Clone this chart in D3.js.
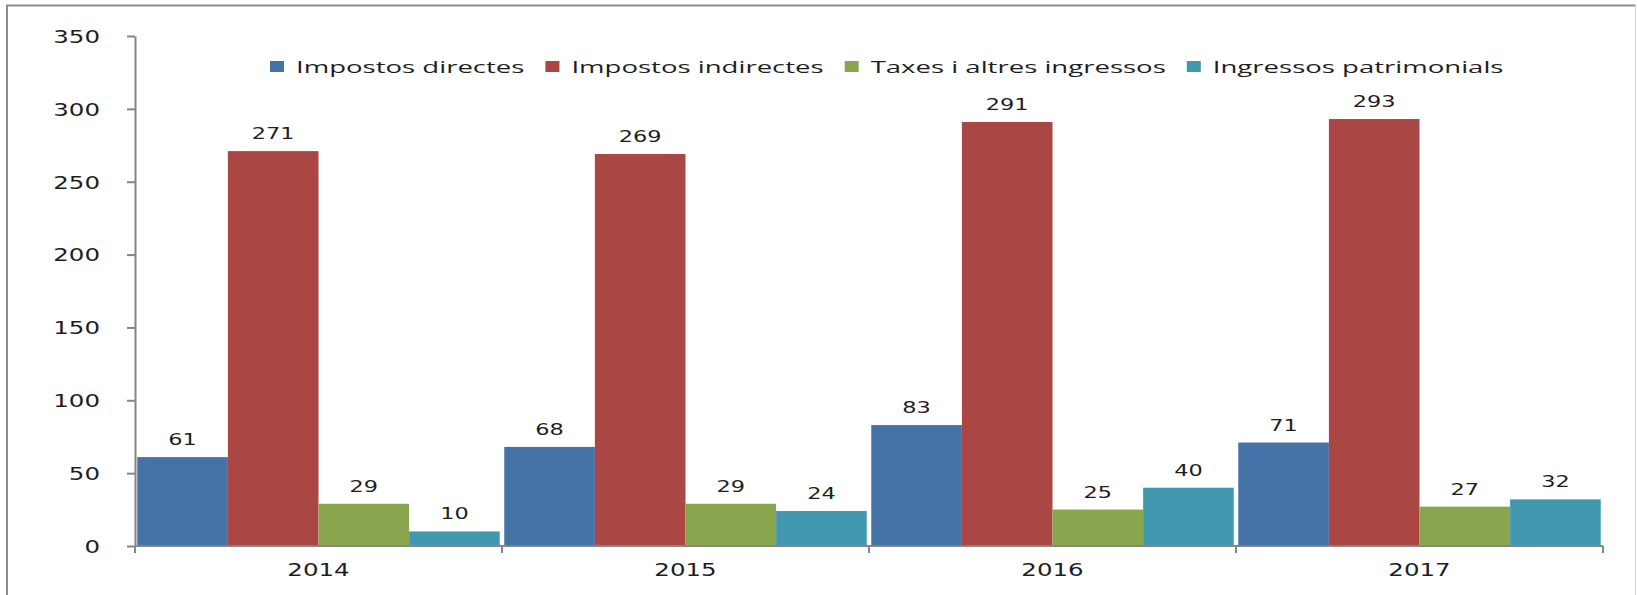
<!DOCTYPE html>
<html>
<head>
<meta charset="utf-8">
<script src="https://cdn.jsdelivr.net/npm/d3@7"></script>
<style>
  body { margin: 0; background: #fff; }
  svg text { font-family: "DejaVu Sans", Verdana, sans-serif; fill: #1e1e1e; }
  .legend text { font-family: "Open Sans", sans-serif; }
</style>
</head>
<body>
<svg id="chart" width="1637" height="595"></svg>
<script>
// chart data
var years = ["2014", "2015", "2016", "2017"];
var seriesNames = ["Impostos directes", "Impostos indirectes", "Taxes i altres ingressos", "Ingressos patrimonials"];
var directes = [61, 68, 83, 71];
var indirectes = [271, 269, 291, 293];
var taxes = [29, 29, 25, 27];
var patrimonials = [10, 24, 40, 32];
var yTicks = [0, 50, 100, 150, 200, 250, 300, 350];
var colors = ["#4572A7", "#AA4643", "#89A54E", "#4198AF"];

var seriesValues = [directes, indirectes, taxes, patrimonials];

var svg = d3.select("#chart");
var stretch = 1.4;      // original text is drawn wide
var legendStretch = 1.62;

// frame round the chart
svg.append("line").attr("x1", 7).attr("y1", 5).attr("x2", 7).attr("y2", 600)
  .attr("stroke", "#8c8c8c").attr("stroke-width", 2);
svg.append("line").attr("x1", 6).attr("y1", 5.5).attr("x2", 1636).attr("y2", 5.5)
  .attr("stroke", "#8c8c8c").attr("stroke-width", 2);
svg.append("line").attr("x1", 1635.5).attr("y1", 5).attr("x2", 1635.5).attr("y2", 600)
  .attr("stroke", "#d4d4d4").attr("stroke-width", 1);

var plot = { left: 135, right: 1603, top: 36, bottom: 546 };

var x0 = d3.scaleBand().domain(years).range([plot.left, plot.right]).paddingInner(0).paddingOuter(0);
var x1 = d3.scaleBand().domain(seriesNames).range([0, x0.bandwidth()]).paddingInner(0).paddingOuter(0.025);
var y = d3.scaleLinear().domain([0, 350]).range([plot.bottom, plot.top]);

// rows of data, one per year
var rows = years.map(function(yr, i) {
  return { year: yr, values: seriesNames.map(function(name, s) {
    return { name: name, value: seriesValues[s][i], color: colors[s] };
  }) };
});

// bars
var groups = svg.append("g").selectAll("g")
  .data(rows).enter().append("g")
  .attr("transform", function(d) { return "translate(" + x0(d.year) + ",0)"; });

groups.selectAll("rect")
  .data(function(d) { return d.values; })
  .enter().append("rect")
  .attr("x", function(d) { return x1(d.name); })
  .attr("y", function(d) { return y(d.value); })
  .attr("width", x1.bandwidth())
  .attr("height", function(d) { return y(0) - y(d.value); })
  .attr("fill", function(d) { return d.color; });

// value labels above bars
groups.selectAll("text.val")
  .data(function(d) { return d.values; })
  .enter().append("text")
  .attr("class", "val")
  .attr("text-anchor", "middle")
  .style("font-size", "16px")
  .attr("transform", function(d) {
    return "translate(" + (x1(d.name) + x1.bandwidth() / 2) + "," + (y(d.value) - 12) + ") scale(" + stretch + ",1)";
  })
  .text(function(d) { return d.value; });

// y axis
var yAxis = svg.append("g")
  .attr("transform", "translate(" + plot.left + ",0)")
  .call(d3.axisLeft(y).tickValues(yTicks).tickSize(8).tickSizeOuter(0));
yAxis.select(".domain").attr("stroke", "#868686").attr("stroke-width", 2);
yAxis.selectAll(".tick line").attr("stroke", "#868686").attr("stroke-width", 2);
yAxis.selectAll(".tick text")
  .attr("x", null).attr("dy", "0.36em")
  .attr("text-anchor", "end")
  .attr("transform", "translate(-35,0) scale(" + stretch + ",1)")
  .style("font-size", "17.5px").attr("fill", "#1e1e1e");

// x axis: ticks sit between the years
var xAxisG = svg.append("g").attr("transform", "translate(0," + plot.bottom + ")");
xAxisG.append("line")
  .attr("x1", plot.left).attr("x2", plot.right)
  .attr("stroke", "#868686").attr("stroke-width", 2);
var edges = years.map(function(d) { return x0(d); }).concat([plot.right]);
xAxisG.selectAll("line.tk").data(edges).enter().append("line")
  .attr("class", "tk")
  .attr("x1", function(d) { return d; }).attr("x2", function(d) { return d; })
  .attr("y1", 0).attr("y2", 7)
  .attr("stroke", "#868686").attr("stroke-width", 2);
xAxisG.selectAll("text").data(years).enter().append("text")
  .attr("text-anchor", "middle")
  .style("font-size", "17.5px")
  .attr("transform", function(d) {
    return "translate(" + (x0(d) + x0.bandwidth() / 2) + ",30) scale(" + stretch + ",1)";
  })
  .text(function(d) { return d; });

// legend
var legend = svg.append("g").attr("class", "legend").attr("transform", "translate(270,67)");
var cx = 0;
seriesNames.forEach(function(name, i) {
  var item = legend.append("g").attr("transform", "translate(" + cx + ",0)");
  item.append("rect").attr("x", 0).attr("y", -6).attr("width", 14).attr("height", 11).attr("fill", colors[i]);
  var t = item.append("text")
    .style("font-size", "17px")
    .attr("dy", "0.35em")
    .attr("transform", "translate(26,0) scale(" + legendStretch + ",1)")
    .text(name);
  var w = t.node().getComputedTextLength() * legendStretch;
  cx += 26 + w + 21;
});
</script>
</body>
</html>
